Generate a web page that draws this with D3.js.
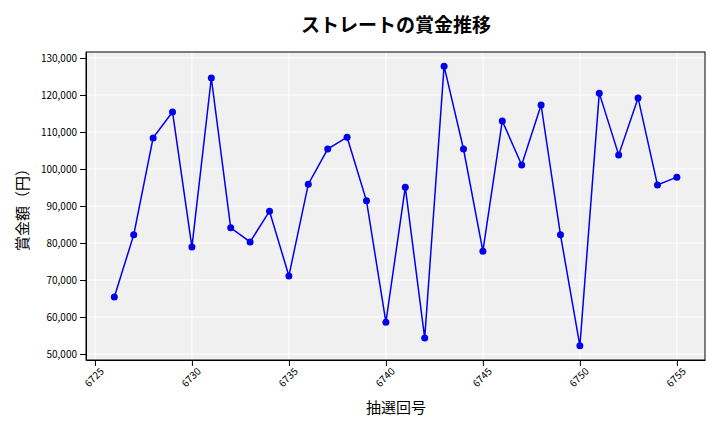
<!DOCTYPE html>
<html>
<head>
<meta charset="utf-8">
<script src="https://cdn.jsdelivr.net/npm/d3@7"></script>
<style>
  body { margin: 0; background: #fff; }
  text { font-family: "Noto Sans CJK JP", "DejaVu Sans", sans-serif; }
</style>
</head>
<body>
<svg id="chart" width="720" height="432"></svg>
<script>
// data
const draws = d3.range(6726, 6756);
const prizes = [65400, 82200, 108400, 115400, 78900, 124600, 84100, 80300, 88600, 71100,
                95900, 105400, 108600, 91400, 58600, 95100, 54300, 127800, 105400, 77800,
                113000, 101100, 117300, 82200, 52200, 120500, 103800, 119200, 95700, 97800];
const xTicks = [6725, 6730, 6735, 6740, 6745, 6750, 6755];
const yTicks = d3.range(50000, 130001, 10000);

const svg = d3.select("#chart");
const plotLeft = 86, plotRight = 705, plotTop = 52, plotBottom = 360;

const x = d3.scaleLinear().domain([6724.54, 6756.45]).range([plotLeft, plotRight]);
const y = d3.scaleLinear().domain([48380, 131620]).range([plotBottom, plotTop]);

svg.append("rect").attr("x", plotLeft).attr("y", plotTop)
    .attr("width", plotRight - plotLeft).attr("height", plotBottom - plotTop).attr("fill", "#f0f0f0");

// grid
svg.append("g").selectAll("line").data(xTicks).join("line")
    .attr("x1", d => x(d)).attr("x2", d => x(d)).attr("y1", plotTop).attr("y2", plotBottom)
    .attr("stroke", "#fff").attr("stroke-width", 1);
svg.append("g").selectAll("line").data(yTicks).join("line")
    .attr("x1", plotLeft).attr("x2", plotRight).attr("y1", d => y(d)).attr("y2", d => y(d))
    .attr("stroke", "#fff").attr("stroke-width", 1);

// axes
const xAxis = svg.append("g").attr("transform", `translate(0,${plotBottom})`)
    .call(d3.axisBottom(x).tickValues(xTicks).tickFormat(d3.format("d")).tickSizeOuter(0));
xAxis.selectAll("text").attr("font-size", 10).attr("text-anchor", "end")
    .attr("dx", "-0.2em").attr("dy", "0.6em").attr("transform", "rotate(-45)");
const yAxis = svg.append("g").attr("transform", `translate(${plotLeft},0)`)
    .call(d3.axisLeft(y).tickValues(yTicks).tickFormat(d3.format(",")).tickSizeOuter(0));
yAxis.selectAll("text").attr("font-size", 10);

svg.append("rect").attr("x", plotLeft).attr("y", plotTop)
    .attr("width", plotRight - plotLeft).attr("height", plotBottom - plotTop)
    .attr("fill", "none").attr("stroke", "#000");

// line + points
svg.append("path").datum(draws)
    .attr("fill", "none").attr("stroke", "#0000ee").attr("stroke-width", 1.5)
    .attr("d", d3.line().x(d => x(d)).y((d, i) => y(prizes[i])));
svg.append("g").selectAll("circle").data(draws).join("circle")
    .attr("cx", d => x(d)).attr("cy", (d, i) => y(prizes[i])).attr("r", 3.5)
    .attr("fill", "#0000ee");

// labels
svg.append("text").attr("x", 396).attr("y", 32).attr("text-anchor", "middle")
    .attr("font-size", 19).attr("font-weight", "bold").text("ストレートの賞金推移");
svg.append("text").attr("x", 396).attr("y", 413).attr("text-anchor", "middle")
    .attr("font-size", 15).text("抽選回号");
svg.append("text").attr("transform", "translate(28,206) rotate(-90)").attr("text-anchor", "middle")
    .attr("font-size", 15).text("賞金額（円）");
</script>
</body>
</html>
